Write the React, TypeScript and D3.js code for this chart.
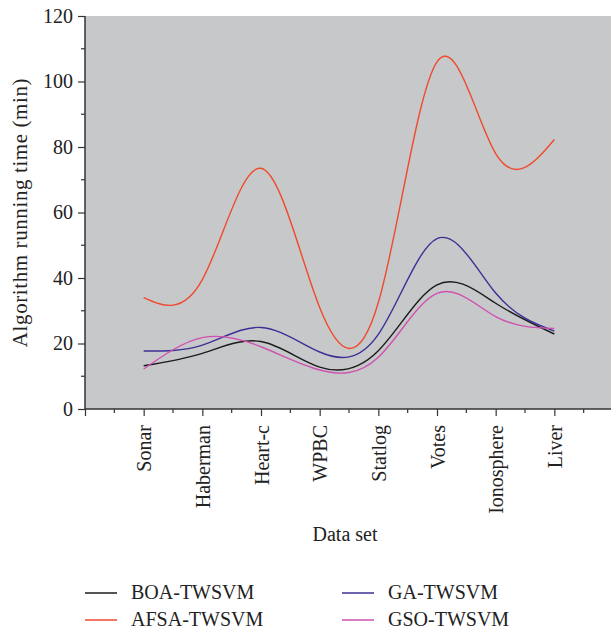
import * as d3 from "d3";
import React, { useEffect, useRef } from "react";

const categories = ["Sonar", "Haberman", "Heart-c", "WPBC", "Statlog", "Votes", "Ionosphere", "Liver"];
const boaValues = [13.2, 17.0, 20.6, 12.8, 17.8, 37.9, 32.3, 22.9];
const afsaValues = [34.0, 39.5, 73.5, 31.0, 32.5, 106.0, 78.0, 82.3];
const gaValues = [17.7, 19.5, 24.9, 17.4, 22.8, 52.0, 35.4, 23.8];
const gsoValues = [12.2, 21.8, 19.0, 11.9, 15.8, 35.3, 28.2, 24.6];
const yTicks = [0, 20, 40, 60, 80, 100, 120];

const series = [
  { name: "BOA-TWSVM", values: boaValues, color: "#1c1c1c" },
  { name: "AFSA-TWSVM", values: afsaValues, color: "#f04a2c" },
  { name: "GA-TWSVM", values: gaValues, color: "#3b2f96" },
  { name: "GSO-TWSVM", values: gsoValues, color: "#cf52b2" },
];

const App = () => {
  const ref = useRef<SVGSVGElement>(null);

  useEffect(() => {
    const width = 611;
    const height = 633;
    const left = 85;
    const top = 16;
    const bottom = 409;
    const font = "'Liberation Serif', 'Times New Roman', serif";
    const axisColor = "#333";

    const x = d3.scaleLinear().domain([0, 9]).range([left, 613]);
    const y = d3.scaleLinear().domain([0, 120]).range([bottom, top]);

    const svg = d3.select(ref.current).attr("width", width).attr("height", height);
    svg.selectAll("*").remove();
    svg.style("font-family", font);

    // plot background
    svg
      .append("rect")
      .attr("x", left)
      .attr("y", top)
      .attr("width", width - left)
      .attr("height", bottom - top)
      .attr("fill", "#c7c8ca");

    const clip = svg.append("clipPath").attr("id", "plotclip");
    clip.append("rect").attr("x", left).attr("y", top - 5).attr("width", width - left).attr("height", bottom - top + 10);

    // lines
    const line = d3
      .line<number>()
      .x((d, i) => x(i + 1))
      .y((d) => y(d))
      .curve(d3.curveNatural);

    svg
      .append("g")
      .attr("clip-path", "url(#plotclip)")
      .selectAll("path")
      .data(series)
      .enter()
      .append("path")
      .attr("d", (s) => line(s.values))
      .attr("fill", "none")
      .attr("stroke", (s) => s.color)
      .attr("stroke-width", 1.4);

    // y axis
    const yAxis = svg
      .append("g")
      .attr("transform", `translate(${left},0)`)
      .call(d3.axisLeft(y).tickValues(yTicks).tickSize(7).tickPadding(5));
    yAxis
      .append("g")
      .selectAll("line")
      .data(d3.range(10, 120, 20))
      .enter()
      .append("line")
      .attr("x1", 0)
      .attr("x2", -4)
      .attr("y1", (d) => y(d))
      .attr("y2", (d) => y(d));
    yAxis.select(".domain").attr("d", `M0,${top}V${bottom}`);

    // x axis
    const xAxis = svg
      .append("g")
      .attr("transform", `translate(0,${bottom})`)
      .call(
        d3
          .axisBottom(x)
          .tickValues(d3.range(0, 9))
          .tickSize(7)
          .tickFormat((d) => (+d >= 1 ? categories[+d - 1] : ""))
      );
    xAxis
      .append("g")
      .selectAll("line")
      .data(d3.range(0.5, 9, 1))
      .enter()
      .append("line")
      .attr("x1", (d) => x(d))
      .attr("x2", (d) => x(d))
      .attr("y1", 0)
      .attr("y2", 4);
    xAxis.select(".domain").attr("d", `M${left},0H${width}`);
    xAxis
      .selectAll(".tick text")
      .attr("transform", "rotate(-90)")
      .attr("text-anchor", "end")
      .attr("x", -16)
      .attr("y", 0)
      .attr("dy", "0.35em");

    [yAxis, xAxis].forEach((g) => {
      g.selectAll("line").attr("stroke", axisColor).attr("stroke-width", 1.2);
      g.select(".domain").attr("stroke", axisColor).attr("stroke-width", 1.5);
      g.selectAll(".tick text")
        .attr("fill", "#222")
        .style("font-size", "20px")
        .style("font-family", font);
    });

    // axis titles
    svg
      .append("text")
      .attr("transform", `translate(27,${(top + bottom) / 2}) rotate(-90)`)
      .attr("text-anchor", "middle")
      .attr("fill", "#222")
      .style("font-size", "21px")
      .style("letter-spacing", "0.6px")
      .text("Algorithm running time (min)");

    svg
      .append("text")
      .attr("x", 345)
      .attr("y", 541)
      .attr("text-anchor", "middle")
      .attr("fill", "#222")
      .style("font-size", "20px")
      .text("Data set");

    // legend
    const legend = svg
      .selectAll(".legend")
      .data(series)
      .enter()
      .append("g")
      .attr("class", "legend")
      .attr("transform", (d, i) => `translate(${85 + (i >= 2 ? 257 : 0)}, ${593 + (i % 2) * 27})`);

    legend
      .append("line")
      .attr("x1", 0)
      .attr("x2", 32)
      .attr("stroke", (d) => d.color)
      .attr("stroke-width", 1.5);

    legend
      .append("text")
      .attr("x", 46)
      .attr("y", 6)
      .attr("fill", "#222")
      .style("font-size", "20px")
      .text((d) => d.name);
  }, []);

  return <svg ref={ref} style={{ display: "block", position: "absolute", left: 0, top: 0 }}></svg>;
};

export default App;
